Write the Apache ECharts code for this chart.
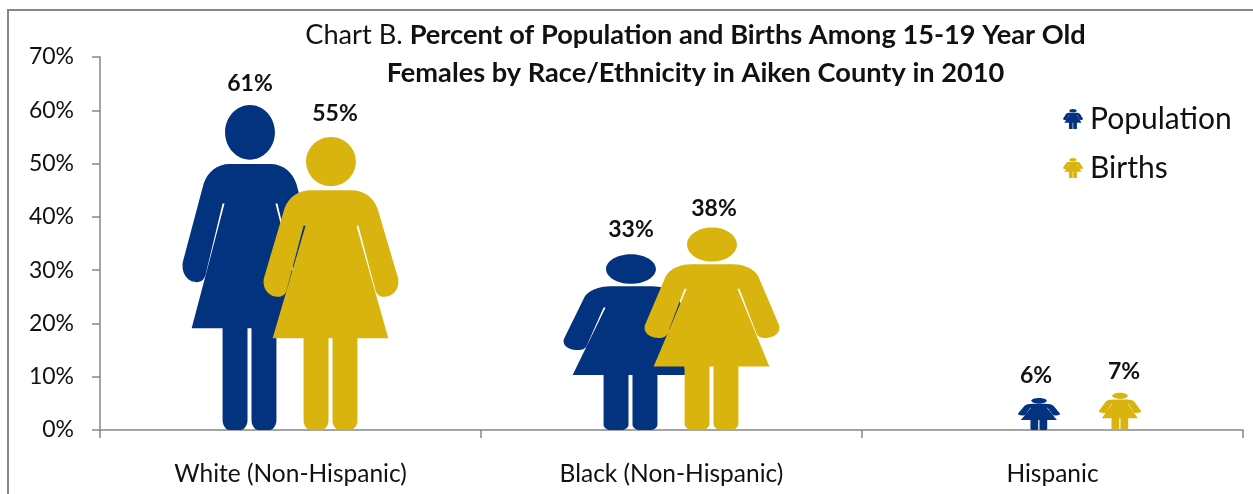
<!DOCTYPE html>
<html><head><meta charset="utf-8">
<style>html,body{margin:0;padding:0;background:#fff;overflow:hidden}#c{width:1253px;height:494px}</style>
<script src="https://cdn.jsdelivr.net/npm/echarts@6/dist/echarts.min.js"></script>
</head><body><div id="c"></div>
<script>
const categories = ['White (Non-Hispanic)', 'Black (Non-Hispanic)', 'Hispanic'];
const population = [61, 33, 6];
const births = [55, 38, 7];
const yTicks = [0, 10, 20, 30, 40, 50, 60, 70];

const FONT = 'Lato, Carlito, sans-serif';
const AXIS = '#868686';
const BLUE = '#03337F';
const GOLD = '#D9B40F';

// Woman silhouette, stretched per mark like the original's picture fill
const WOMAN = 'path://' +
  'M67.5 0C81.3 0 92.5 11.2 92.5 25C92.5 38.8 81.3 50 67.5 50C53.7 50 42.5 38.8 42.5 25C42.5 11.2 53.7 0 67.5 0Z' +
  'M47 54L88 54C100 54 110 61 114 72L135 144C136.5 156 128 162 121 162C116 162 113 159 112 155L95 90L93 90L125 204L94 204L94 288C94 292 91 297 87 297L76 297C72 297 69 292 69 288L69 204L65 204L65 288C65 292 62 297 58 297L47 297C43 297 40 292 40 288L40 204L9 204L42 90L40 90L23 155C22 159 19 162 14 162C7 162 -1.5 156 0 144L21 72C25 61 35 54 47 54Z';

const widths = [135, 135, 42];
const shift = [0, 0, 27];
const popLabelShift = [[0, -1], [0, -4], [24, -2]];
const birthLabelShift = [[4, -3], [2, 2], [31, -1]];

function items(vals, labelShift) {
  return vals.map((v, i) => ({
    value: v,
    symbolSize: [widths[i], '100%'],
    symbolOffset: [shift[i], 0],
    label: { offset: labelShift[i] }
  }));
}
function series(name, vals, color, labelShift) {
  return {
    name, type: 'pictorialBar', symbol: WOMAN, symbolPosition: 'start',
    barWidth: 81, barGap: '0%',
    itemStyle: { color },
    label: {
      show: true, position: 'top', distance: 9, formatter: p => p.value + '%',
      fontFamily: FONT, fontSize: 23, fontWeight: 'bold', color: '#111'
    },
    data: items(vals, labelShift),
    animation: false
  };
}
const chart = echarts.init(document.getElementById('c'), null, { renderer: 'canvas' });
chart.setOption({
  animation: false,
  backgroundColor: '#fff',
  grid: { left: 100, right: 10, top: 57, bottom: 64, containLabel: false },
  title: {
    left: 690.5, top: 11, textAlign: 'center',
    text: '{r|Chart B. }{b|Percent of Population and Births Among 15-19 Year Old}\n{b|Females by Race/Ethnicity in Aiken County in 2010}',
    textStyle: {
      fontWeight: 'normal',
      rich: {
        r: { fontFamily: FONT, fontSize: 27.2, fontWeight: 'normal', color: '#111', lineHeight: 38 },
        b: { fontFamily: FONT, fontSize: 27.2, fontWeight: 'bold', color: '#111', lineHeight: 38 }
      }
    }
  },
  legend: {
    orient: 'vertical', left: 1058, top: 99, itemWidth: 20, itemHeight: 20, itemGap: 19,
    symbolKeepAspect: false,
    textStyle: { fontFamily: FONT, fontSize: 30, color: '#111', padding: [0, 0, 0, 2] },
    data: [{ name: 'Population', icon: WOMAN }, { name: 'Births', icon: WOMAN }]
  },
  xAxis: {
    type: 'category', data: categories,
    axisLine: { lineStyle: { color: AXIS, width: 1.5 } },
    axisTick: { show: true, length: 8, alignWithLabel: false, lineStyle: { color: AXIS, width: 1.5 } },
    axisLabel: { fontFamily: FONT, fontSize: 24.5, color: '#111', margin: 32 }
  },
  yAxis: {
    type: 'value', min: 0, max: 70, interval: 10,
    axisLine: { show: true, lineStyle: { color: AXIS, width: 1.5 } },
    axisTick: { show: true, length: 8, lineStyle: { color: AXIS, width: 1.5 } },
    splitLine: { show: false },
    axisLabel: { fontFamily: FONT, fontSize: 23, color: '#111', margin: 26, formatter: v => v + '%' }
  },
  graphic: [{
    type: 'rect', shape: { x: 8, y: 10, width: 1400, height: 700 }, silent: true, z: -1,
    style: { fill: 'none', stroke: AXIS, lineWidth: 2 }
  }],
  series: [series('Population', population, BLUE, popLabelShift), series('Births', births, GOLD, birthLabelShift)]
});
</script></body></html>
